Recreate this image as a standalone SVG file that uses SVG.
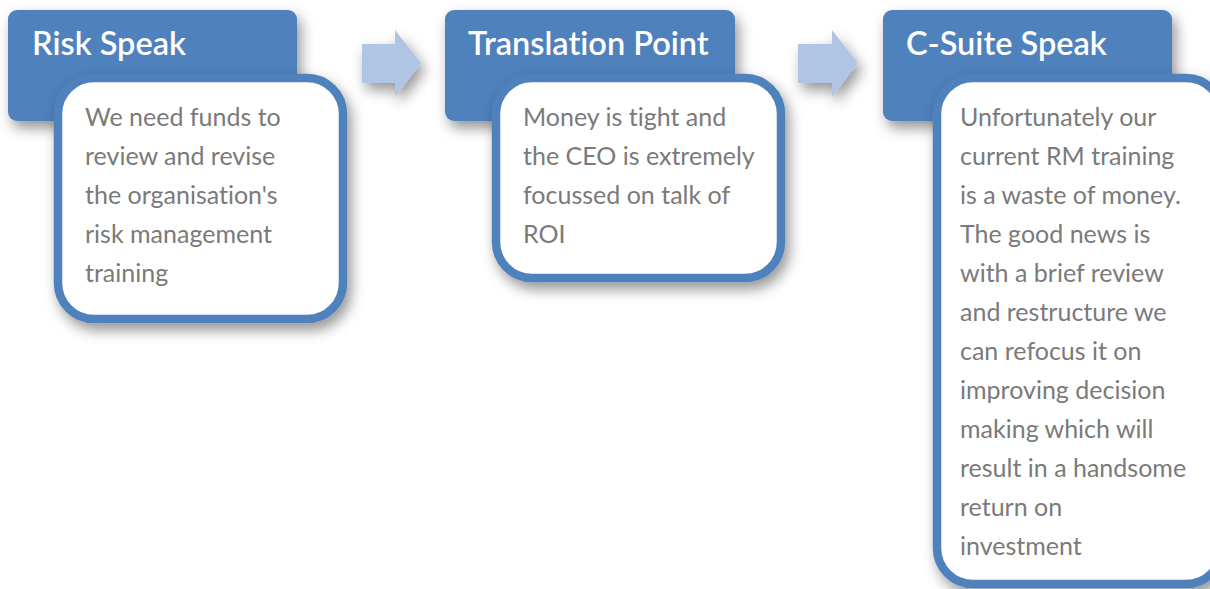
<svg xmlns="http://www.w3.org/2000/svg" width="1210" height="589" viewBox="0 0 1210 589">
<style>
.hdr{fill:#4f81bd}
.body{fill:#ffffff;stroke:#4f81bd;stroke-width:8.5}
.arrow{fill:#b0c4e4}
.title{font-family:Lato,"Open Sans","Liberation Sans",sans-serif;font-size:32.5px;font-weight:600;fill:#ffffff;font-variant-ligatures:none}
.txt{font-family:Lato,"Open Sans","Liberation Sans",sans-serif;font-size:25px;fill:#7a7a7a;font-variant-ligatures:none}
</style>
<defs>
<filter id="sh" x="-20%" y="-20%" width="150%" height="150%">
<feDropShadow dx="4" dy="7" stdDeviation="7" flood-color="#000" flood-opacity="0.42"/>
</filter>
</defs>
<rect width="1210" height="589" fill="#ffffff"/>
<g id="connectors">
<path class="arrow" filter="url(#sh)" d="M362,44 H395 V30 L421,63 L395,97 V83 H362 Z"/>
<path class="arrow" filter="url(#sh)" d="M798,44 H832 V30 L858,63 L832,97 V83 H798 Z"/>
</g>
<g id="node-risk-speak">
<rect class="hdr" filter="url(#sh)" x="8" y="10" width="289" height="111" rx="9"/>
<text class="title" x="32" y="55">Risk Speak</text>
<rect class="body" filter="url(#sh)" x="58" y="78" width="285" height="241" rx="36"/>
<text class="txt"><tspan x="85" y="126">We need funds to</tspan><tspan x="85" y="165">review and revise</tspan><tspan x="85" y="204">the organisation's</tspan><tspan x="85" y="243">risk management</tspan><tspan x="85" y="282">training</tspan></text>
</g>
<g id="node-translation-point">
<rect class="hdr" filter="url(#sh)" x="445" y="10" width="290" height="111" rx="9"/>
<text class="title" x="468" y="55">Translation Point</text>
<rect class="body" filter="url(#sh)" x="496" y="78" width="285" height="200" rx="36"/>
<text class="txt"><tspan x="523" y="126">Money is tight and</tspan><tspan x="523" y="165">the CEO is extremely</tspan><tspan x="523" y="204">focussed on talk of</tspan><tspan x="523" y="243">ROI</tspan></text>
</g>
<g id="node-c-suite-speak">
<rect class="hdr" filter="url(#sh)" x="883" y="10" width="289" height="111" rx="9"/>
<text class="title" x="906" y="55">C-Suite Speak</text>
<rect class="body" filter="url(#sh)" x="937" y="78" width="285" height="506" rx="36"/>
<text class="txt"><tspan x="960" y="126">Unfortunately our</tspan><tspan x="960" y="165">current RM training</tspan><tspan x="960" y="204">is a waste of money.</tspan><tspan x="960" y="243">The good news is</tspan><tspan x="960" y="282">with a brief review</tspan><tspan x="960" y="321">and restructure we</tspan><tspan x="960" y="360">can refocus it on</tspan><tspan x="960" y="399">improving decision</tspan><tspan x="960" y="438">making which will</tspan><tspan x="960" y="477">result in a handsome</tspan><tspan x="960" y="516">return on</tspan><tspan x="960" y="555">investment</tspan></text>
</g>
</svg>
